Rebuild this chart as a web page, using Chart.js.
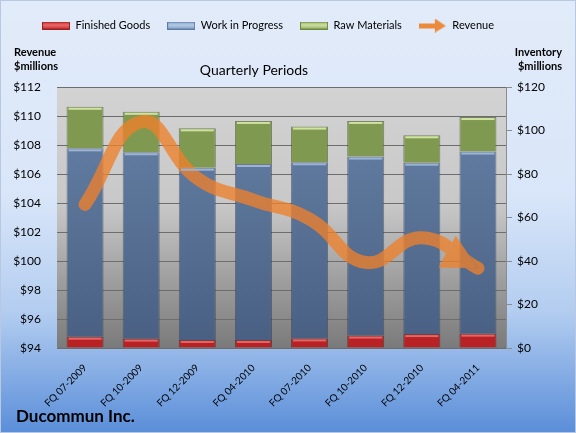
<!DOCTYPE html>
<html>
<head>
<meta charset="utf-8">
<script src="https://cdn.jsdelivr.net/npm/chart.js@4.4.0/dist/chart.umd.min.js"></script>
<style>
  html, body { margin: 0; padding: 0; background: #fff; }
</style>
</head>
<body>
<canvas id="inventoryChart" width="576" height="433"></canvas>
<script>
// quarterly periods and values
const quarters = ['FQ 07-2009', 'FQ 10-2009', 'FQ 12-2009', 'FQ 04-2010',
                  'FQ 07-2010', 'FQ 10-2010', 'FQ 12-2010', 'FQ 04-2011'];
const finishedGoods  = [5.2, 4.3, 3.7, 3.7, 4.4, 5.7, 6.4, 6.6];
const workInProgress = [86.6, 85.7, 79.2, 80.9, 81.0, 82.3, 78.8, 83.7];
const rawMaterials   = [19.1, 18.6, 18.1, 19.8, 16.4, 16.4, 12.6, 15.9];
const revenue        = [103.9, 109.6, 105.7, 104.2, 102.9, 99.9, 101.6, 99.5];

const FONT = 'Lato, "Open Sans", sans-serif';
const LINE_COLOR = 'rgba(238, 128, 44, 0.78)';

function swatch(light, dark, edge) {
  const c = document.createElement('canvas');
  c.width = 28; c.height = 8;
  const g = c.getContext('2d');
  const grad = g.createLinearGradient(0, 0, 0, 8);
  grad.addColorStop(0, dark);
  grad.addColorStop(0.45, light);
  grad.addColorStop(1, dark);
  g.fillStyle = grad;
  g.fillRect(0, 0, 28, 8);
  g.strokeStyle = edge;
  g.strokeRect(0.5, 0.5, 27, 7);
  return c;
}

function arrowIcon() {
  const c = document.createElement('canvas');
  c.width = 28; c.height = 14;
  const g = c.getContext('2d');
  g.fillStyle = '#ec8a3c';
  g.fillRect(0, 5, 18, 5);
  g.beginPath();
  g.moveTo(16, 0);
  g.lineTo(27, 7.5);
  g.lineTo(16, 14);
  g.closePath();
  g.fill();
  return c;
}

const legendIcons = [
  swatch('#ec6a6c', '#c0282a', '#9c2020'),
  swatch('#b6cbe6', '#7d9cc6', '#5e7ca6'),
  swatch('#cfe0a6', '#8fab5a', '#6f8a40'),
  arrowIcon()
];

function blueFill(context) {
  const area = context.chart.chartArea;
  if (!area) return '#5b7699';
  const g = context.chart.ctx.createLinearGradient(0, area.top, 0, area.bottom);
  g.addColorStop(0, '#6884a9');
  g.addColorStop(1, '#485f82');
  return g;
}

// arrowhead geometry at the last revenue point
function arrowGeometry(chart) {
  const meta = chart.getDatasetMeta(3);
  const pts = meta.data;
  if (!pts || pts.length < 2) return null;
  const p = pts[pts.length - 1];
  let dx = p.x - (p.cp1x ?? pts[pts.length - 2].x);
  let dy = p.y - (p.cp1y ?? pts[pts.length - 2].y);
  const len = Math.hypot(dx, dy) || 1;
  dx /= len; dy /= len;
  const L = 35, W = 18;
  const bx = p.x - dx * L, by = p.y - dy * L;
  return [[p.x, p.y], [bx - dy * W, by + dx * W], [bx + dy * W, by - dx * W]];
}

const decorations = {
  id: 'decorations',
  afterLayout(chart) {
    // keep the legend up at the top edge, a bit left of centre
    const lg = chart.legend;
    if (!lg) return;
    const h = lg.bottom - lg.top;
    lg.top = 3;
    lg.bottom = lg.top + h;
    lg.left -= 20;
    lg.right -= 20;
  },
  beforeDraw(chart) {
    const { ctx, width, height, chartArea: a } = chart;
    ctx.save();
    const bg = ctx.createLinearGradient(0, 0, 0, height);
    bg.addColorStop(0, '#e2ebf9');
    bg.addColorStop(0.45, '#d9e6f9');
    bg.addColorStop(0.72, '#b3cdf0');
    bg.addColorStop(1, '#5a8ed9');
    ctx.fillStyle = bg;
    ctx.fillRect(0, 0, width, height);
    ctx.strokeStyle = '#b7c8e0';
    ctx.strokeRect(0.5, 0.5, width - 1, height - 1);
    const pg = ctx.createLinearGradient(0, a.top, 0, a.bottom);
    pg.addColorStop(0, '#d3d3d3');
    pg.addColorStop(0.45, '#c8c8c8');
    pg.addColorStop(1, '#7a7a7a');
    ctx.fillStyle = pg;
    ctx.fillRect(a.left, a.top, a.right - a.left, a.bottom - a.top);
    ctx.restore();
  },
  beforeDatasetDraw(chart, args) {
    if (args.index !== 3) return;
    const tri = arrowGeometry(chart);
    if (!tri) return;
    const ctx = chart.ctx;
    ctx.save();
    ctx.beginPath();
    ctx.rect(0, 0, chart.width, chart.height);
    ctx.moveTo(tri[0][0], tri[0][1]);
    ctx.lineTo(tri[2][0], tri[2][1]);
    ctx.lineTo(tri[1][0], tri[1][1]);
    ctx.closePath();
    ctx.clip('evenodd');
  },
  afterDatasetDraw(chart, args) {
    if (args.index !== 3) return;
    const ctx = chart.ctx;
    ctx.restore();
    const tri = arrowGeometry(chart);
    if (!tri) return;
    ctx.save();
    ctx.fillStyle = LINE_COLOR;
    ctx.beginPath();
    ctx.moveTo(tri[0][0], tri[0][1]);
    ctx.lineTo(tri[1][0], tri[1][1]);
    ctx.lineTo(tri[2][0], tri[2][1]);
    ctx.closePath();
    ctx.fill();
    ctx.restore();
  },
  afterDatasetsDraw(chart) {
    // light bevel strip on top of every bar segment
    const ctx = chart.ctx;
    const tops = ['#e66466', '#9ab4d6', '#cfe3a0'];
    ctx.save();
    for (let d = 0; d < 3; d++) {
      chart.getDatasetMeta(d).data.forEach(bar => {
        const left = bar.x - bar.width / 2 + 2;
        ctx.fillStyle = tops[d];
        ctx.fillRect(left, bar.y + 1, bar.width - 4, 2);
      });
    }
    ctx.restore();
  },
  afterDraw(chart) {
    const ctx = chart.ctx;
    ctx.save();
    ctx.fillStyle = '#000';
    ctx.textBaseline = 'middle';
    ctx.font = 'bold 11px ' + FONT;
    ctx.textAlign = 'left';
    ctx.fillText('Revenue', 14, 52);
    ctx.fillText('$millions', 14, 66);
    ctx.textAlign = 'right';
    ctx.fillText('Inventory', 562, 52);
    ctx.fillText('$millions', 562, 66);
    ctx.textAlign = 'center';
    ctx.font = '14px ' + FONT;
    ctx.fillText('Quarterly Periods', 254, 70);
    ctx.textAlign = 'left';
    ctx.font = 'bold 17px ' + FONT;
    ctx.fillText('Ducommun Inc.', 16, 417);
    ctx.restore();
  }
};

new Chart(document.getElementById('inventoryChart'), {
  data: {
    labels: quarters,
    datasets: [
      {
        type: 'bar', label: 'Finished Goods', data: finishedGoods, yAxisID: 'yInv',
        backgroundColor: '#b82224', borderColor: 'rgba(90,20,20,0.6)', borderWidth: 1,
        stack: 'inv', order: 1, barPercentage: 0.66, categoryPercentage: 1
      },
      {
        type: 'bar', label: 'Work in Progress', data: workInProgress, yAxisID: 'yInv',
        backgroundColor: blueFill, borderColor: 'rgba(40,55,80,0.55)', borderWidth: 1,
        stack: 'inv', order: 1, barPercentage: 0.66, categoryPercentage: 1
      },
      {
        type: 'bar', label: 'Raw Materials', data: rawMaterials, yAxisID: 'yInv',
        backgroundColor: '#7f9a50', borderColor: 'rgba(60,75,35,0.6)', borderWidth: 1,
        stack: 'inv', order: 1, barPercentage: 0.66, categoryPercentage: 1
      },
      {
        type: 'line', label: 'Revenue', data: revenue, yAxisID: 'yRev',
        borderColor: LINE_COLOR, borderWidth: 13, borderCapStyle: 'round',
        borderJoinStyle: 'round', tension: 0.45, pointRadius: 0, fill: false, order: 0
      }
    ]
  },
  options: {
    responsive: false,
    animation: false,
    devicePixelRatio: 1,
    layout: { padding: { top: 2, bottom: 25, left: 0, right: 0 } },
    plugins: {
      tooltip: { enabled: false },
      legend: {
        position: 'top',
        labels: {
          usePointStyle: true,
          pointStyleWidth: 28,
          padding: 17,
          color: '#111',
          font: { family: FONT, size: 11 },
          generateLabels: chart => chart.data.datasets.map((ds, i) => ({
            text: ds.label,
            pointStyle: legendIcons[i],
            fillStyle: 'transparent',
            strokeStyle: 'transparent',
            lineWidth: 0,
            hidden: false,
            datasetIndex: i
          }))
        }
      }
    },
    scales: {
      x: {
        offset: true,
        grid: { display: false },
        border: { display: false },
        ticks: {
          minRotation: 45, maxRotation: 45, padding: 6,
          color: '#000', font: { family: FONT, size: 10 }
        },
        afterFit: scale => { scale.height = 60; }
      },
      yRev: {
        position: 'left',
        min: 94, max: 112,
        border: { display: false },
        grid: { color: '#6d6d6d', lineWidth: 1, drawTicks: false },
        ticks: {
          stepSize: 2, padding: 16, color: '#000',
          font: { family: FONT, size: 12 },
          callback: v => '$' + v
        },
        afterFit: scale => { scale.width = 57; scale.paddingTop = 87; }
      },
      yInv: {
        position: 'right',
        stacked: true,
        min: 0, max: 120,
        border: { display: true, color: '#8c8c8c' },
        grid: { drawOnChartArea: false, tickLength: 6, color: '#8c8c8c' },
        ticks: {
          stepSize: 20, padding: 5, color: '#000',
          font: { family: FONT, size: 12 },
          callback: v => '$' + v
        },
        afterFit: scale => { scale.width = 70; }
      }
    }
  },
  plugins: [decorations]
});
</script>
</body>
</html>
